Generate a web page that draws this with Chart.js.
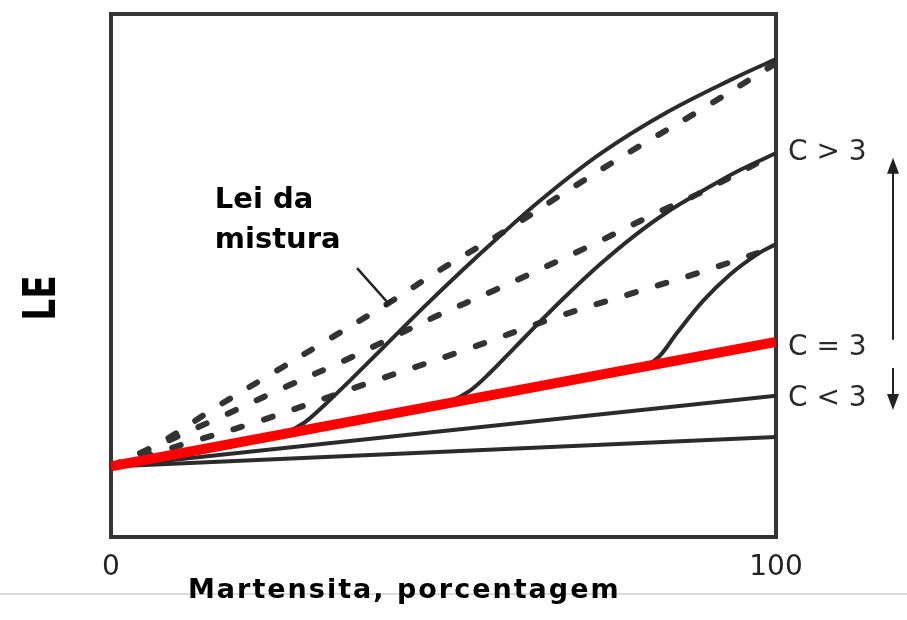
<!DOCTYPE html>
<html>
<head>
<meta charset="utf-8">
<script src="https://cdn.jsdelivr.net/npm/chart.js@4/dist/chart.umd.min.js"></script>
<style>
  html, body { margin: 0; padding: 0; background: #fff; }
  #wrap { width: 907px; height: 620px; }
</style>
</head>
<body>
<div id="wrap"><canvas id="chart"></canvas></div>
<script>
// tick labels on the x axis (martensite %)
const xTicks = [0, 100];

// red reference line C = 3
const redX = [0, 100];
const redY = [13.5, 37.3];

// straight lines below, C < 3
const lowX = [0, 100];
const lowY = [13.5, 19.1];
const midLowX = [0, 100];
const midLowY = [13.5, 27.0];

// solid curves, C > 3
const solid1X = [22, 26, 29, 32, 36, 41, 47, 53, 58.5, 64.5, 73.5, 83.6, 93.5, 100];
const solid1Y = [18.7, 19.8, 21.8, 25.1, 30.0, 36.3, 43.9, 51.2, 57.6, 64.3, 73.2, 81.2, 87.6, 91.4];
const solid2X = [47, 51, 54, 57, 61, 65, 69, 73.5, 78.5, 83.5, 88.6, 94, 100];
const solid2Y = [24.8, 26.0, 28.0, 31.4, 36.6, 41.8, 46.8, 52.1, 57.4, 62.0, 65.9, 69.8, 73.4];
const solid3X = [77, 80.5, 82.5, 85.1, 89.0, 93.1, 97.1, 100];
const solid3Y = [31.8, 32.9, 34.6, 39.0, 45.1, 50.2, 54.0, 56.0];

// dashed curves, rule of mixtures
const dash1X = [0, 7.4, 15.9, 24.4, 32.6, 41.7, 49.9, 59.5, 69.5, 78.5, 88.6, 97.6, 100];
const dash1Y = [13.5, 18.0, 24.9, 31.4, 37.7, 44.7, 51.4, 58.7, 66.9, 74.0, 81.6, 88.7, 90.6];
const dash2X = [0, 16.4, 25.9, 35.2, 48.7, 57.7, 71.6, 82.1, 88.6, 100];
const dash2Y = [13.5, 22.9, 28.5, 33.8, 42.1, 47.2, 55.4, 62.0, 65.8, 73.4];
const dash3X = [0, 12.9, 22.9, 37.9, 52.9, 67.1, 77.6, 88.3, 100];
const dash3Y = [13.5, 18.5, 22.4, 29.1, 35.6, 42.1, 46.3, 50.5, 55.5];

// labels at the right end of the lines
const sideLabels = ['C > 3', 'C = 3', 'C < 3'];
const sideLabelY = [73.4, 36.1, 26.4];

const annotLines = ['Lei da', 'mistura'];

function pts(xs, ys) {
    return xs.map((x, i) => ({ x: x, y: ys[i] }));
}

function solid(xs, ys) {
    return {
        data: pts(xs, ys),
        borderColor: '#2b2b2b',
        borderWidth: 4,
        tension: 0.35,
        order: 2
    };
}

function dashed(xs, ys) {
    return {
        data: pts(xs, ys),
        borderColor: '#333',
        borderWidth: 6,
        borderDash: [9, 23],
        borderCapStyle: 'round',
        tension: 0.35,
        order: 3
    };
}

const decor = {
    id: 'decor',
    beforeDraw(chart) {
        const ctx = chart.ctx;
        ctx.save();
        ctx.fillStyle = '#fff';
        ctx.fillRect(0, 0, chart.width, chart.height);
        // faint slide separator
        ctx.strokeStyle = '#dcdcdc';
        ctx.lineWidth = 2;
        ctx.beginPath();
        ctx.moveTo(0, 594);
        ctx.lineTo(chart.width, 594);
        ctx.stroke();
        ctx.restore();
    },
    beforeDatasetsDraw(chart) {
        const { ctx, chartArea: a } = chart;
        ctx.save();
        ctx.strokeStyle = '#353535';
        ctx.lineWidth = 4;
        ctx.strokeRect(a.left, a.top, a.right - a.left, a.bottom - a.top);
        ctx.restore();
    },
    afterDatasetsDraw(chart) {
        const { ctx, chartArea: a, scales: { x, y } } = chart;
        ctx.save();

        // tick labels
        ctx.fillStyle = '#222';
        ctx.font = '28px "DejaVu Sans"';
        ctx.textAlign = 'center';
        ctx.textBaseline = 'middle';
        xTicks.forEach(v => ctx.fillText(String(v), x.getPixelForValue(v), a.bottom + 31));

        // side labels
        ctx.fillStyle = '#2a2a2a';
        ctx.textAlign = 'left';
        sideLabels.forEach((t, i) => ctx.fillText(t, a.right + 12, y.getPixelForValue(sideLabelY[i])));

        // arrows
        const ax = a.right + 117;
        ctx.strokeStyle = '#222';
        ctx.fillStyle = '#222';
        ctx.lineWidth = 2;
        function arrow(y0, y1) {
            const p0 = y.getPixelForValue(y0), p1 = y.getPixelForValue(y1);
            const dir = p1 < p0 ? 1 : -1;
            ctx.beginPath();
            ctx.moveTo(ax, p0);
            ctx.lineTo(ax, p1 + dir * 12);
            ctx.stroke();
            ctx.beginPath();
            ctx.moveTo(ax, p1);
            ctx.lineTo(ax - 6, p1 + dir * 16);
            ctx.lineTo(ax + 6, p1 + dir * 16);
            ctx.closePath();
            ctx.fill();
        }
        arrow(37.7, 72.5);
        arrow(32.3, 24.3);

        // axis titles
        ctx.fillStyle = '#000';
        ctx.font = 'bold 27px "DejaVu Sans"';
        ctx.letterSpacing = '2px';
        ctx.textAlign = 'left';
        ctx.textBaseline = 'alphabetic';
        ctx.fillText('Martensita, porcentagem', a.left + 77, 598);
        ctx.letterSpacing = '0px';

        ctx.save();
        ctx.translate(44, 298);
        ctx.rotate(-Math.PI / 2);
        ctx.scale(0.78, 1);
        ctx.font = 'bold 44px "DejaVu Sans"';
        ctx.textAlign = 'center';
        ctx.textBaseline = 'middle';
        ctx.fillText('LE', 0, 0);
        ctx.restore();

        // "Lei da mistura" annotation
        ctx.font = 'bold 29px "DejaVu Sans"';
        ctx.textAlign = 'left';
        const lx = x.getPixelForValue(15.6);
        ctx.fillText(annotLines[0], lx, y.getPixelForValue(62.9));
        ctx.fillText(annotLines[1], lx, y.getPixelForValue(55.2));

        const s0x = x.getPixelForValue(37.0), s0y = y.getPixelForValue(51.4);
        const s1x = x.getPixelForValue(41.7), s1y = y.getPixelForValue(44.7);
        const len = Math.hypot(s1x - s0x, s1y - s0y);
        const px = (s1y - s0y) / len, py = -(s1x - s0x) / len;
        ctx.strokeStyle = '#222';
        ctx.lineWidth = 2.5;
        ctx.beginPath();
        ctx.moveTo(s0x, s0y);
        ctx.lineTo(s1x, s1y);
        ctx.moveTo(s1x - px * 5, s1y - py * 5);
        ctx.lineTo(s1x + px * 5, s1y + py * 5);
        ctx.stroke();

        ctx.restore();
    }
};

new Chart(document.getElementById('chart'), {
    type: 'line',
    data: {
        datasets: [
            {
                data: pts(redX, redY),
                borderColor: '#ff0000',
                borderWidth: 10,
                order: 0
            },
            solid(lowX, lowY),
            solid(midLowX, midLowY),
            solid(solid1X, solid1Y),
            solid(solid2X, solid2Y),
            solid(solid3X, solid3Y),
            dashed(dash1X, dash1Y),
            dashed(dash2X, dash2Y),
            dashed(dash3X, dash3Y)
        ]
    },
    options: {
        responsive: true,
        maintainAspectRatio: false,
        animation: false,
        layout: { padding: { left: 111, right: 131, top: 14, bottom: 83 } },
        elements: { point: { radius: 0 } },
        scales: {
            x: { type: 'linear', min: 0, max: 100, display: false },
            y: { min: 0, max: 100, display: false }
        },
        plugins: {
            legend: { display: false },
            tooltip: { enabled: false }
        }
    },
    plugins: [decor]
});
</script>
</body>
</html>
